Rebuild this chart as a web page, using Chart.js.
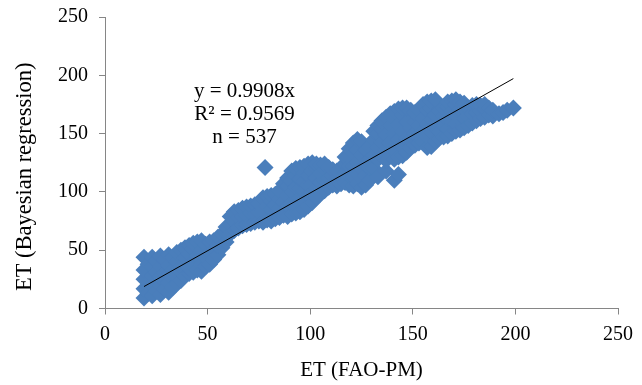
<!DOCTYPE html>
<html>
<head>
<meta charset="utf-8">
<script src="https://cdn.jsdelivr.net/npm/chart.js@4.4.0/dist/chart.umd.min.js"></script>
<style>
  html, body { margin: 0; padding: 0; background: #fff; }
  #wrap { width: 642px; height: 385px; }
</style>
</head>
<body>
<div id="wrap"><canvas id="etChart" width="642" height="385"></canvas></div>
<script>
// ET values (FAO-PM on x, Bayesian regression on y)
const etFaoPm = [
  19, 19, 19, 19, 19, 21, 21, 23, 23, 23, 23, 23, 25, 25, 25,
  27, 27, 27, 27, 27, 29, 29, 29, 31, 31, 31, 31, 31,
  33, 33, 33, 35, 35, 35, 35, 37, 37, 37, 37,
  39, 39, 39, 41, 41, 41, 41, 43, 43, 43, 43,
  45, 45, 45, 47, 47, 47, 47, 49, 49, 49,
  51, 51, 51, 53, 53, 53, 55, 55, 55, 57, 57, 57,
  59, 59, 59, 61, 61, 61, 63, 63, 63, 65, 65, 65,
  67, 67, 67, 69, 69, 69, 71, 71, 71, 73, 73, 73,
  75, 75, 75, 77, 77, 77, 78, 79, 79, 79,
  81, 81, 81, 81, 83, 83, 83, 85, 85, 85, 85,
  87, 87, 87, 87, 89, 89, 89, 89, 89,
  91, 91, 91, 91, 91, 93, 93, 93, 93, 93,
  95, 95, 95, 95, 95, 97, 97, 97, 97, 97, 97,
  99, 99, 99, 99, 99, 101, 101, 101, 101, 101,
  103, 103, 103, 103, 103, 105, 105, 105, 105,
  107, 107, 107, 107, 109, 109, 109, 111, 111, 111,
  113, 113, 113, 115, 115, 115, 117, 117, 117, 117,
  119, 119, 119, 119, 119, 121, 121, 121, 121, 121,
  123, 123, 123, 123, 123, 125, 125, 125, 125, 125,
  127, 127, 127, 127, 129, 129, 129, 129, 131, 131, 131, 131,
  133, 133, 133, 133, 133, 135, 135, 135, 135,
  137, 137, 137, 137, 137, 139, 139, 139, 139,
  141, 141, 141, 141, 141, 141, 143, 143, 143, 143, 143,
  145, 145, 145, 145, 145, 147, 147, 147, 147,
  149, 149, 149, 149, 151, 151, 151, 151, 153, 153, 153, 153,
  155, 155, 155, 155, 157, 157, 157, 157, 157,
  159, 159, 159, 159, 159, 161, 161, 161, 161,
  163, 163, 163, 163, 165, 165, 165, 165,
  167, 167, 167, 167, 167, 169, 169, 169, 169,
  171, 171, 171, 171, 171, 173, 173, 173, 173,
  175, 175, 175, 175, 177, 177, 177, 179, 179, 179,
  181, 181, 181, 183, 183, 183, 185, 185, 185,
  187, 187, 189, 189, 192, 194, 196, 199
];
const etBayes = [
  9, 17, 25, 33, 44, 13, 38, 11, 20, 28, 36, 44, 15, 31, 41,
  12, 20, 27, 36, 45, 16, 31, 42, 14, 22, 29, 37, 46,
  18, 33, 44, 21, 27, 40, 48, 24, 31, 36, 50,
  28, 43, 52, 30, 35, 47, 54, 31, 40, 51, 56,
  33, 45, 57, 32, 38, 50, 58, 36, 44, 55,
  38, 48, 57, 42, 51, 58, 46, 54, 61, 52, 58, 64,
  57, 65, 70, 64, 72, 79, 67, 75, 83, 69, 78, 84,
  71, 79, 86, 72, 80, 87, 73, 82, 88, 74, 81, 89,
  75, 83, 90, 74, 84, 95, 121, 76, 88, 96,
  75, 85, 92, 97, 77, 89, 98, 78, 86, 94, 101,
  80, 92, 100, 107, 79, 88, 97, 105, 112,
  81, 90, 100, 110, 118, 82, 93, 104, 114, 120,
  83, 95, 103, 111, 121, 85, 92, 101, 109, 116, 122,
  88, 97, 106, 114, 124, 91, 99, 107, 118, 125,
  95, 103, 112, 120, 124, 98, 108, 116, 123,
  101, 110, 119, 124, 104, 112, 121, 106, 114, 119,
  105, 112, 118, 107, 115, 121, 108, 116, 124, 130,
  106, 114, 122, 130, 137, 105, 113, 122, 133, 142,
  107, 116, 125, 136, 145, 104, 112, 120, 131, 143,
  106, 114, 123, 136, 110, 121, 128, 139, 120, 131, 145, 152,
  113, 128, 138, 150, 157, 131, 143, 154, 161,
  118, 127, 136, 149, 164, 131, 142, 157, 167,
  110, 128, 136, 150, 162, 169, 115, 130, 145, 158, 171,
  131, 139, 152, 166, 172, 134, 146, 160, 172,
  138, 145, 155, 170, 140, 150, 160, 168, 142, 149, 157, 170,
  143, 152, 163, 175, 138, 148, 158, 170, 177,
  139, 151, 162, 172, 178, 143, 155, 166, 179,
  146, 152, 160, 170, 147, 157, 165, 172,
  148, 154, 163, 173, 177, 150, 160, 169, 178,
  152, 158, 166, 175, 179, 153, 162, 170, 177,
  155, 163, 171, 176, 157, 165, 172, 159, 167, 174,
  161, 168, 175, 163, 170, 174, 164, 171, 175,
  166, 172, 165, 170, 167, 168, 170, 172
];

const xTickValues = [0, 50, 100, 150, 200, 250];
const yTickValues = [0, 50, 100, 150, 200, 250];
const slope = 0.9908;
const fitText = ['y = 0.9908x', 'R\u00b2 = 0.9569', 'n = 537'];
const xTitle = 'ET (FAO-PM)';
const yTitle = 'ET (Bayesian regression)';

document.addEventListener('DOMContentLoaded', function() {
    const canvas = document.getElementById('etChart');
    const ctx = canvas.getContext('2d');

    const serif = "'Liberation Serif', 'Times New Roman', serif";
    const axisGray = '#868686';

    const points = etFaoPm.map((x, i) => ({ x: x, y: etBayes[i] }));
    const xMin = Math.min(...etFaoPm);
    const xMax = Math.max(...etFaoPm);
    const trend = [{ x: xMin, y: slope * xMin }, { x: xMax, y: slope * xMax }];

    // equation text + rotated y title (Excel puts it a bit below the middle)
    const textPlugin = {
        id: 'fitLabel',
        afterDatasetsDraw(chart) {
            const c = chart.ctx;
            const cx = chart.scales.x.getPixelForValue(68);
            const cy = chart.scales.y.getPixelForValue(186.5);
            c.save();
            c.font = '21px ' + serif;
            c.fillStyle = '#000';
            c.textAlign = 'center';
            c.textBaseline = 'middle';
            fitText.forEach((t, i) => c.fillText(t, cx, cy + i * 23));

            c.font = '22.5px ' + serif;
            c.translate(25, chart.scales.y.getPixelForValue(113));
            c.rotate(-Math.PI / 2);
            c.fillText(yTitle, 0, 0);
            c.restore();
        }
    };

    const tickFont = { family: serif, size: 20 };
    const titleFont = { family: serif, size: 21 };

    new Chart(ctx, {
        type: 'scatter',
        data: {
            datasets: [
                {
                    data: trend,
                    showLine: true,
                    borderColor: '#000',
                    borderWidth: 1,
                    pointRadius: 0,
                    order: 0
                },
                {
                    data: points,
                    pointStyle: 'rectRot',
                    pointRadius: 8.5,
                    pointHoverRadius: 8.5,
                    backgroundColor: '#4A7EBB',
                    borderWidth: 0,
                    order: 1
                }
            ]
        },
        options: {
            responsive: false,
            animation: false,
            devicePixelRatio: 1,
            layout: { padding: { left: 10, right: 24, top: 17, bottom: 2 } },
            plugins: {
                legend: { display: false },
                tooltip: { enabled: false }
            },
            scales: {
                x: {
                    type: 'linear',
                    min: 0,
                    max: 250,
                    afterBuildTicks: s => { s.ticks = xTickValues.map(v => ({ value: v })); },
                    afterFit: s => { s.height = 74.5; s.paddingLeft = 0; s.paddingRight = 0; },
                    grid: { drawOnChartArea: false, color: axisGray, tickLength: 6 },
                    border: { color: axisGray, width: 1 },
                    ticks: { font: tickFont, color: '#000', padding: 8, maxRotation: 0 },
                    title: { display: true, text: xTitle, font: titleFont, color: '#000', padding: { top: 0, bottom: 0 } }
                },
                y: {
                    type: 'linear',
                    min: 0,
                    max: 250,
                    afterBuildTicks: s => { s.ticks = yTickValues.map(v => ({ value: v })); },
                    afterFit: s => { s.width = 95; s.paddingTop = 0; s.paddingBottom = 0; },
                    grid: { drawOnChartArea: false, color: axisGray, tickLength: 6 },
                    border: { color: axisGray, width: 1 },
                    ticks: { font: tickFont, color: '#000', padding: 11 }
                }
            }
        },
        plugins: [textPlugin]
    });
});
</script>
</body>
</html>
